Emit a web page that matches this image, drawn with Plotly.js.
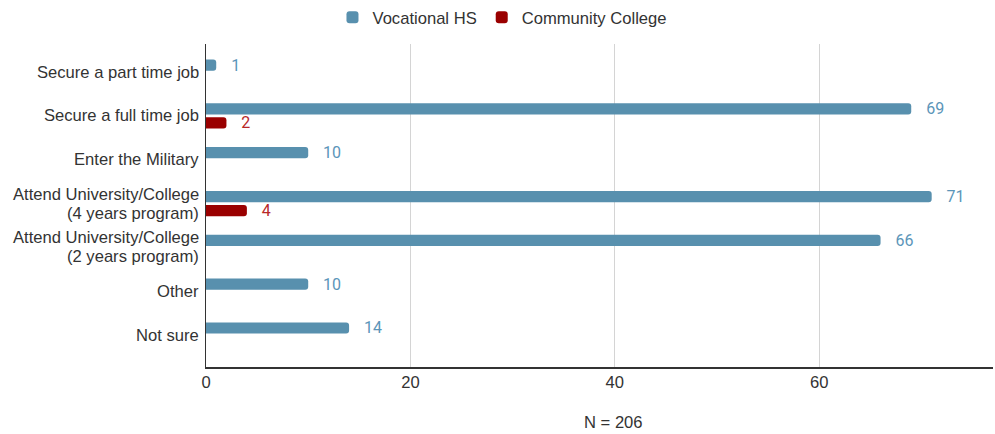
<!DOCTYPE html>
<html>
<head>
<meta charset="utf-8">
<script src="https://cdn.plot.ly/plotly-3.0.1.min.js"></script>
<style>html,body{margin:0;padding:0;background:#fff;}#chart{width:995px;height:434px;}</style>
</head>
<body>
<div id="chart"></div>
<script>
const categories = [
  "Secure a part time job",
  "Secure a full time job",
  "Enter the Military",
  "Attend University/College<br>(4 years program)",
  "Attend University/College<br>(2 years program)",
  "Other",
  "Not sure"
];
const vocationalHS = [1, 69, 10, 71, 66, 10, 14];
const communityCollege = [null, 2, null, 4, null, null, null];
const xTicks = [0, 20, 40, 60];
const xTitle = "N = 206";

const font = "'Liberation Sans', Arial, sans-serif";
const numFont = "Roboto, 'Liberation Sans', sans-serif";
const fs = 16.6;

const traces = [
  {
    type: "bar", orientation: "h", name: "Vocational HS",
    y: categories, x: vocationalHS,
    marker: {color: "#5890ae"},
    text: vocationalHS.map(v => v == null ? "" : "   " + v),
    textposition: "outside", cliponaxis: false, constraintext: "none",
    textfont: {family: numFont, size: 16, color: "#5b95b9"},
    hoverinfo: "x+name"
  },
  {
    type: "bar", orientation: "h", name: "Community College",
    y: categories, x: communityCollege,
    marker: {color: "#9a0000"},
    text: communityCollege.map(v => v == null ? "" : "   " + v),
    textposition: "outside", cliponaxis: false, constraintext: "none",
    textfont: {family: numFont, size: 16, color: "#b82828"},
    hoverinfo: "x+name"
  }
];

// category labels drawn as annotations on the category axis (tighter line spacing)
const annotations = [];
categories.forEach(c => {
  const lines = c.split("<br>");
  const n = lines.length;
  lines.forEach((ln, i) => {
    annotations.push({
      xref: "paper", yref: "y", x: 0, y: c,
      text: ln, showarrow: false,
      xanchor: "right", yanchor: "middle",
      xshift: -6, yshift: ((n - 1) / 2 - i) * 19,
      borderpad: 0,
      font: {family: font, size: fs, color: "#333"}
    });
  });
});
annotations.push({
  xref: "paper", yref: "paper", x: 0.518, y: -0.173,
  xanchor: "center", yanchor: "middle", showarrow: false,
  text: xTitle, font: {family: font, size: fs, color: "#333"}
});

const layout = {
  width: 995, height: 434,
  margin: {l: 206, r: 2, t: 44, b: 67},
  paper_bgcolor: "#fff", plot_bgcolor: "#fff",
  font: {family: font, size: fs, color: "#333"},
  barmode: "group",
  bargap: 0.36,
  bargroupgap: 0.2,
  barcornerradius: 3,
  showlegend: true,
  legend: {
    orientation: "h", xref: "container", yref: "container",
    x: 0.505, xanchor: "center", y: 1.0, yanchor: "top",
    font: {family: font, size: fs, color: "#333"},
    itemwidth: 30
  },
  annotations: annotations,
  xaxis: {
    range: [0, 77],
    tickvals: xTicks, ticktext: xTicks.map(String),
    showgrid: true, gridcolor: "#d4d4d4", gridwidth: 1,
    zeroline: false,
    showline: true, linecolor: "#333", linewidth: 1.5,
    ticks: "", ticklen: 0,
    tickfont: {family: font, size: fs, color: "#333"},
    fixedrange: true
  },
  yaxis: {
    type: "category",
    range: [6.73, -0.64],
    showgrid: false, zeroline: false,
    showline: true, linecolor: "#333", linewidth: 1.5,
    ticks: "", ticklen: 0,
    showticklabels: false,
    automargin: false,
    fixedrange: true
  }
};

Plotly.newPlot("chart", traces, layout, {displayModeBar: false, staticPlot: true});
</script>
</body>
</html>
